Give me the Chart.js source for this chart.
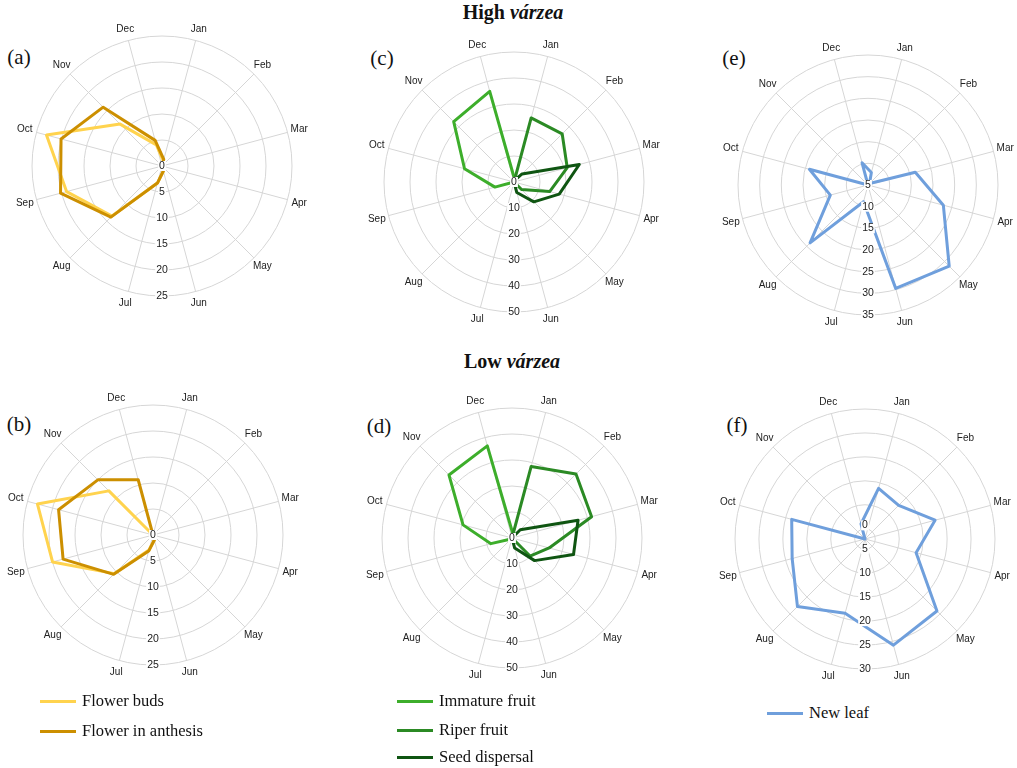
<!DOCTYPE html>
<html>
<head>
<meta charset="utf-8">
<title>Phenology - high and low várzea</title>
<script src="https://cdn.jsdelivr.net/npm/chart.js@4.4.0/dist/chart.umd.min.js"></script>
<style>
	body { margin: 0; width: 1017px; height: 768px; background: #fff; position: relative; overflow: hidden; font-family: "Liberation Serif", "Times New Roman", serif; color: #111; }
	canvas { position: absolute; }
	.title { position: absolute; width: 300px; text-align: center; font-size: 20px; line-height: 20px; font-weight: bold; }
	.panel { position: absolute; width: 40px; text-align: center; font-size: 21px; line-height: 21px; }
	.legend { position: absolute; display: flex; align-items: center; height: 20px; font-size: 16.5px; white-space: nowrap; }
	.legend .line { display: inline-block; width: 36px; height: 3px; margin-right: 6px; }
</style>
</head>
<body>
<div class="title" style="left:363px; top:2px;">High <i>várzea</i></div>
<div class="title" style="left:362px; top:351px;">Low <i>várzea</i></div>

<div class="panel" style="left:-1px; top:47px;">(a)</div>
<div class="panel" style="left:-1px; top:414px;">(b)</div>
<div class="panel" style="left:362px; top:48px;">(c)</div>
<div class="panel" style="left:359px; top:416px;">(d)</div>
<div class="panel" style="left:714px; top:48px;">(e)</div>
<div class="panel" style="left:717px; top:415px;">(f)</div>

<canvas id="chartA" width="320" height="320" style="left:2px; top:6px;"></canvas>
<canvas id="chartB" width="320" height="320" style="left:-7px; top:375px;"></canvas>
<canvas id="chartC" width="320" height="320" style="left:354px; top:22px;"></canvas>
<canvas id="chartD" width="320" height="320" style="left:352px; top:378px;"></canvas>
<canvas id="chartE" width="320" height="320" style="left:708px; top:25px;"></canvas>
<canvas id="chartF" width="320" height="320" style="left:705px; top:379px;"></canvas>

<div class="legend" style="left:40px; top:691px;"><span class="line" style="background:#ffd34e"></span>Flower buds</div>
<div class="legend" style="left:40px; top:721px;"><span class="line" style="background:#cc8f00"></span>Flower in anthesis</div>
<div class="legend" style="left:397px; top:691px;"><span class="line" style="background:#3dae2b"></span>Immature fruit</div>
<div class="legend" style="left:397px; top:720px;"><span class="line" style="background:#2b8a24"></span>Riper fruit</div>
<div class="legend" style="left:397px; top:747px;"><span class="line" style="background:#0f5512"></span>Seed dispersal</div>
<div class="legend" style="left:767px; top:703px;"><span class="line" style="background:#6f9fdc"></span>New leaf</div>

<script>
const months = ["Jan", "Feb", "Mar", "Apr", "May", "Jun", "Jul", "Aug", "Sep", "Oct", "Nov", "Dec"];

// High várzea
const highBuds = [1, 0, 0, 0, 0, 1, 3.4, 13.6, 19, 23, 11.4, 4.2];
const highAnthesis = [1.3, 0, 0, 0, 0, 1, 3.4, 13.9, 20.2, 20.1, 16, 5.1];
const highImmature = [1, 0, 0, 0, 0, 0, 0, 0, 7.6, 19.7, 32.8, 36.1];
const highRiper = [25.5, 26.2, 21.2, 14.2, 4.1, 0, 0, 0, 0, 0, 0, 0];
const highSeed = [0.5, 4.4, 26, 18, 10.8, 4.2, 0, 0, 0, 0, 0, 0];
const highLeaf = [8, 5.5, 16.3, 23, 31.5, 29.7, 9, 23.9, 14, 19, 5, 10.3];

// Low várzea
const lowBuds = [0, 0, 0, 0, 0, 1, 3, 10.5, 20, 23, 12, 0];
const lowAnthesis = [0, 0, 0, 0, 0, 1, 3.2, 10.7, 17.9, 18.8, 15, 11];
const lowImmature = [1.5, 0, 0, 0, 0, 0, 0, 0.5, 8.4, 19.5, 34.3, 36.7];
const lowRiper = [28.5, 34.8, 31.7, 14.8, 9.8, 0, 0, 0, 0, 0, 0, 0];
const lowSeed = [0, 4.5, 26.3, 24.5, 12.3, 4, 0, 0, 0, 0, 0, 0];
const lowLeaf = [13.8, 12.8, 18, 13.9, 24.1, 25.8, 18.9, 22.8, 18.6, 18.7, 2.85, 6.1];

// radial tick labels
const ticksFlower = [0, 5, 10, 15, 20, 25];
const ticksFruit = [0, 10, 20, 30, 40, 50];
const ticksLeafHigh = [5, 10, 15, 20, 25, 30, 35];
const ticksLeafLow = [0, 5, 10, 15, 20, 25, 30];

const colBuds = "#ffd34e";
const colAnthesis = "#cc8f00";
const colImmature = "#3dae2b";
const colRiper = "#2b8a24";
const colSeed = "#0f5512";
const colLeaf = "#6f9fdc";
const gridCol = "#d6d6d6";

// month names outside the ring + tick values going down from the centre
const axisLabels = {
	id: "axisLabels",
	afterDatasetsDraw(chart, args, opts) {
		const r = chart.scales.r;
		const ctx = chart.ctx;
		ctx.save();
		ctx.textAlign = "center";
		ctx.textBaseline = "middle";
		ctx.fillStyle = "#222";
		ctx.font = "10px 'Liberation Sans', Arial, sans-serif";
		chart.data.labels.forEach((m, i) => {
			let p = r.getPointPosition(i, r.drawingArea + 12);
			ctx.fillText(m, p.x, p.y);
		});
		ctx.font = "10.5px 'Liberation Sans', Arial, sans-serif";
		opts.values.forEach((v) => {
			let y = r.yCenter + r.getDistanceFromCenterForValue(v);
			let w = ctx.measureText(String(v)).width + 2;
			ctx.fillStyle = "#fff";
			ctx.fillRect(r.xCenter - w / 2, y - 5, w, 10);
			ctx.fillStyle = "#222";
			ctx.fillText(String(v), r.xCenter, y);
		});
		ctx.restore();
	}
};

function serie(name, values, color, order) {
	return {
		label: name,
		data: values,
		borderColor: color,
		borderWidth: 3,
		borderJoinStyle: "round",
		fill: false,
		pointRadius: 0,
		order: order
	};
}

function drawRadar(id, datasets, min, max, step, tickValues) {
	let ctx = document.getElementById(id);
	return new Chart(ctx, {
		type: "radar",
		data: { labels: months, datasets: datasets },
		options: {
			responsive: false,
			animation: false,
			layout: { padding: 30 },
			plugins: {
				legend: { display: false },
				tooltip: { enabled: false },
				axisLabels: { values: tickValues }
			},
			elements: { line: { tension: 0 } },
			scales: {
				r: {
					min: min,
					max: max,
					startAngle: 15,
					ticks: { display: false, stepSize: step },
					grid: { color: gridCol, lineWidth: 1, circular: true },
					angleLines: { color: gridCol, lineWidth: 1 },
					pointLabels: { display: false }
				}
			}
		},
		plugins: [axisLabels]
	});
}

drawRadar("chartA", [
	serie("Flower buds", highBuds, colBuds, 2),
	serie("Flower in anthesis", highAnthesis, colAnthesis, 1)
], 0, 25, 5, ticksFlower);

drawRadar("chartB", [
	serie("Flower buds", lowBuds, colBuds, 2),
	serie("Flower in anthesis", lowAnthesis, colAnthesis, 1)
], 0, 25, 5, ticksFlower);

drawRadar("chartC", [
	serie("Immature fruit", highImmature, colImmature, 3),
	serie("Riper fruit", highRiper, colRiper, 2),
	serie("Seed dispersal", highSeed, colSeed, 1)
], 0, 50, 10, ticksFruit);

drawRadar("chartD", [
	serie("Immature fruit", lowImmature, colImmature, 3),
	serie("Riper fruit", lowRiper, colRiper, 2),
	serie("Seed dispersal", lowSeed, colSeed, 1)
], 0, 50, 10, ticksFruit);

drawRadar("chartE", [serie("New leaf", highLeaf, colLeaf, 1)], 5, 35, 5, ticksLeafHigh);
drawRadar("chartF", [serie("New leaf", lowLeaf, colLeaf, 1)], 2.85, 30, 5, ticksLeafLow);
</script>
</body>
</html>
